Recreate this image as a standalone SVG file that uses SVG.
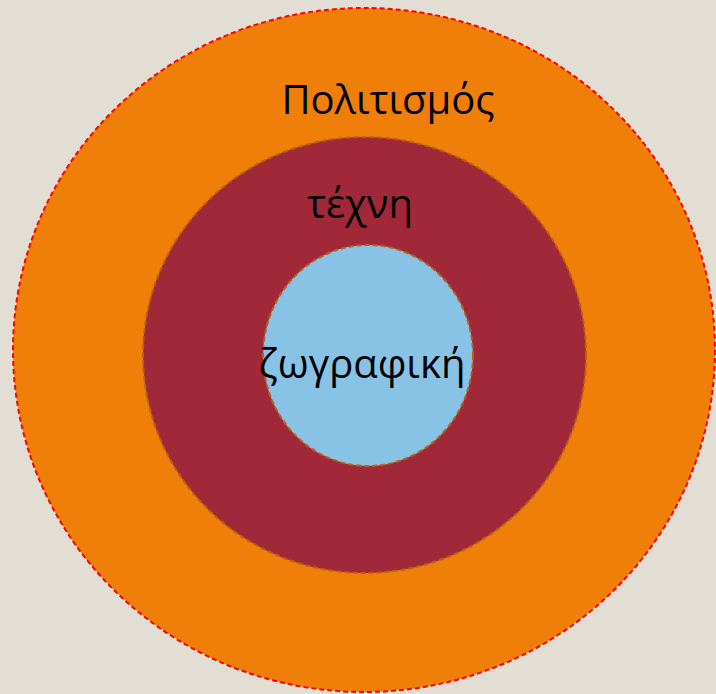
<svg xmlns="http://www.w3.org/2000/svg" width="716" height="694" viewBox="0 0 716 694">
<style>
.lbl{font-family:"Open Sans","Noto Sans","DejaVu Sans",sans-serif;font-size:40px;fill:#000;text-anchor:middle}
.ring{stroke-dasharray:5 3}
</style>
<rect width="716" height="694" fill="#E3DED3"/>
<g id="politismos">
<ellipse cx="364" cy="350" rx="351" ry="342" fill="#F07F09" stroke="#FF0000" stroke-width="2" class="ring"/>
<text class="lbl" x="388" y="114">Πολιτισμός</text>
</g>
<g id="techni">
<ellipse cx="364.5" cy="355" rx="221.5" ry="218" fill="#A02838" stroke="#B8620F" stroke-width="2" class="ring"/>
<text class="lbl" x="360" y="218">τέχνη</text>
</g>
<g id="zografiki">
<ellipse cx="368" cy="355.5" rx="105" ry="110.5" fill="#88C3E5" stroke="#B8620F" stroke-width="2" class="ring"/>
<text class="lbl" x="362" y="378">ζωγραφική</text>
</g>
<g id="connectors"/>
</svg>
